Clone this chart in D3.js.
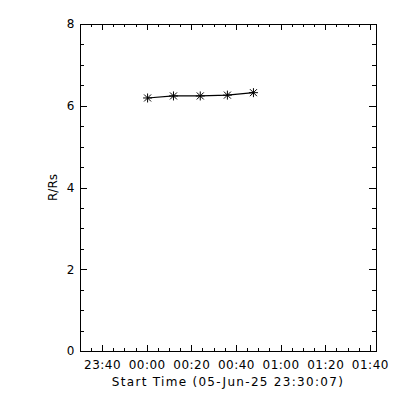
<!DOCTYPE html>
<html>
<head>
<meta charset="utf-8">
<script src="https://cdn.jsdelivr.net/npm/d3@7"></script>
<style>
  body { margin: 0; background: #fff; }
  text { font-family: "DejaVu Sans", sans-serif; font-size: 12px; fill: #000; }
  .tick text { letter-spacing: 0.5px; }
  .title { letter-spacing: 1.3px; }
</style>
</head>
<body>
<div id="chart"></div>
<script>
// data
var times = ["2025-06-06T00:00:24Z", "2025-06-06T00:12:00Z", "2025-06-06T00:24:00Z",
             "2025-06-06T00:36:10Z", "2025-06-06T00:47:50Z"];
var heights = [6.19, 6.24, 6.24, 6.26, 6.32];
var yTicks = [0, 2, 4, 6, 8];
var xTicks = ["2025-06-05T23:40:00Z", "2025-06-06T00:00:00Z", "2025-06-06T00:20:00Z",
              "2025-06-06T00:40:00Z", "2025-06-06T01:00:00Z", "2025-06-06T01:20:00Z",
              "2025-06-06T01:40:00Z"];
var xStart = "2025-06-05T23:30:07Z", xEnd = "2025-06-06T01:42:45Z";
var xTitle = "Start Time (05-Jun-25 23:30:07)";
var yTitle = "R/Rs";

var margin = {top: 24, right: 24, bottom: 49, left: 80},
    width = 400 - margin.left - margin.right,
    height = 400 - margin.top - margin.bottom;

var svg = d3.select("#chart")
  .append("svg")
    .attr("width", 400)
    .attr("height", 400)
  .append("g")
    .attr("transform", "translate(" + margin.left + "," + margin.top + ")");

var x = d3.scaleUtc()
  .domain([new Date(xStart), new Date(xEnd)])
  .range([0, width]);
var y = d3.scaleLinear()
  .domain([0, 8])
  .range([height, 0]);

var fmt = d3.utcFormat("%H:%M");
var xMajor = xTicks.map(function(d) { return new Date(d); });
var xMinor = d3.utcMinute.every(5).range(x.domain()[0], x.domain()[1]);
var yMinor = d3.range(0, 8.01, 0.5);

function styleAxis(g) {
  g.select(".domain").remove();
  g.selectAll("line").attr("stroke", "#000").attr("shape-rendering", "crispEdges");
}

// minor ticks (bottom, top, left, right)
svg.append("g").attr("transform", "translate(0," + height + ")")
  .call(d3.axisBottom(x).tickValues(xMinor).tickSize(-3).tickFormat(""))
  .call(styleAxis);
svg.append("g")
  .call(d3.axisTop(x).tickValues(xMinor).tickSize(-3).tickFormat(""))
  .call(styleAxis);
svg.append("g")
  .call(d3.axisLeft(y).tickValues(yMinor).tickSize(-4).tickFormat(""))
  .call(styleAxis);
svg.append("g").attr("transform", "translate(" + width + ",0)")
  .call(d3.axisRight(y).tickValues(yMinor).tickSize(-4).tickFormat(""))
  .call(styleAxis);

// major ticks with labels
svg.append("g").attr("transform", "translate(0," + height + ")")
  .call(d3.axisBottom(x).tickValues(xMajor).tickSize(-6).tickPadding(9).tickFormat(fmt))
  .call(styleAxis)
  .selectAll("text").attr("font-family", null).attr("font-size", null);
svg.append("g")
  .call(d3.axisTop(x).tickValues(xMajor).tickSize(-6).tickFormat(""))
  .call(styleAxis);
svg.append("g")
  .call(d3.axisLeft(y).tickValues(yTicks).tickSize(-7).tickPadding(5).tickFormat(d3.format("d")))
  .call(styleAxis)
  .selectAll("text").attr("font-family", null).attr("font-size", null);
svg.append("g").attr("transform", "translate(" + width + ",0)")
  .call(d3.axisRight(y).tickValues(yTicks).tickSize(-7).tickFormat(""))
  .call(styleAxis);

// frame
svg.append("rect")
  .attr("width", width).attr("height", height)
  .attr("fill", "none").attr("stroke", "#000")
  .attr("shape-rendering", "crispEdges");

// axis titles
svg.append("text")
  .attr("class", "title")
  .attr("x", width / 2).attr("y", height + 35)
  .attr("text-anchor", "middle")
  .text(xTitle);
svg.append("text")
  .attr("transform", "translate(-23," + (height / 2) + ")rotate(-90)")
  .attr("text-anchor", "middle")
  .text(yTitle);

// line + asterisk markers
var pts = times.map(function(t, i) { return {t: new Date(t), v: heights[i]}; });
svg.append("path")
  .datum(pts)
  .attr("fill", "none").attr("stroke", "#000").attr("stroke-width", 1.2)
  .attr("d", d3.line().x(function(d) { return x(d.t); }).y(function(d) { return y(d.v); }));

var star = "M-4.5,0L4.5,0M0,-4.5L0,4.5M-3.5,-3.5L3.5,3.5M-3.5,3.5L3.5,-3.5";
svg.selectAll(".star")
  .data(pts)
  .enter()
  .append("path")
    .attr("class", "star")
    .attr("transform", function(d) { return "translate(" + x(d.t) + "," + y(d.v) + ")"; })
    .attr("d", star)
    .attr("stroke", "#000").attr("stroke-width", 1).attr("fill", "none");
</script>
</body>
</html>
